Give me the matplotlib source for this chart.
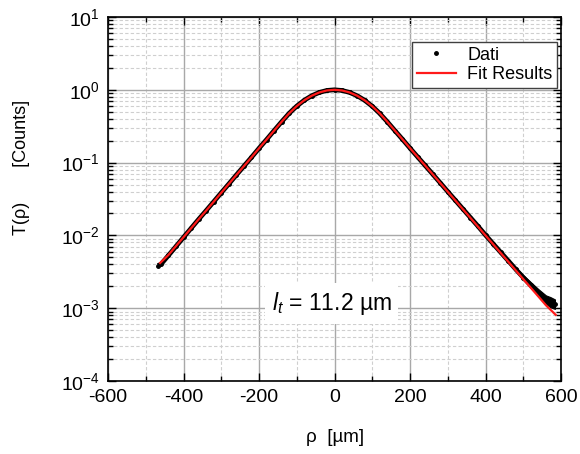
import matplotlib
matplotlib.use("Agg")
import matplotlib.pyplot as plt
from matplotlib.lines import Line2D
from matplotlib.ticker import MultipleLocator, LogLocator, NullFormatter

plt.rcParams["font.family"] = ["Liberation Sans", "DejaVu Sans"]
plt.rcParams["mathtext.fontset"] = "custom"
plt.rcParams["mathtext.rm"] = "Liberation Sans"
plt.rcParams["mathtext.it"] = "Liberation Sans:italic"
plt.rcParams["axes.unicode_minus"] = False

# Measured transmittance profile (normalised counts) vs. distance rho [um]
rho_data = [-468, -460, -440, -420, -400, -380, -360, -340, -320, -300, -280, -260,
            -240, -220, -200, -180, -160, -140, -120, -100, -80, -60, -40, -20, 0,
            20, 40, 60, 80, 100, 120, 140, 160, 180, 200, 220, 240, 260, 280, 300,
            320, 340, 360, 380, 400, 420, 440, 460, 480, 500, 520, 540, 560, 584]
t_data = [0.00385, 0.00400, 0.00530, 0.00705, 0.00940, 0.0125, 0.0166, 0.0219, 0.0290,
          0.0385, 0.0509, 0.0675, 0.0893, 0.118, 0.157, 0.207, 0.275, 0.364, 0.476,
          0.597, 0.719, 0.831, 0.921, 0.980, 1.000, 0.979, 0.920, 0.829, 0.717,
          0.594, 0.473, 0.363, 0.275, 0.209, 0.158, 0.120, 0.0915, 0.0695, 0.0528,
          0.0400, 0.0304, 0.0231, 0.0176, 0.0134, 0.0101, 0.00770, 0.00588, 0.00450,
          0.00343, 0.00264, 0.00206, 0.00163, 0.00131, 0.00113]

# Scatter band of the noisy tail
rho_tail = [460, 480, 500, 520, 540, 560, 572, 584]
t_tail_hi = [0.00470, 0.00365, 0.00285, 0.00228, 0.00183, 0.00150, 0.00142, 0.00132]
t_tail_lo = [0.00435, 0.00330, 0.00250, 0.00192, 0.00148, 0.00114, 0.00103, 0.00098]

# Fitted diffusion profile
rho_fit = [-462, -440, -420, -400, -380, -360, -340, -320, -300, -280, -260, -240,
           -220, -200, -180, -160, -140, -120, -100, -80, -60, -40, -20, 0, 20, 40,
           60, 80, 100, 120, 140, 160, 180, 200, 220, 240, 260, 280, 300, 320, 340,
           360, 380, 400, 420, 440, 460, 480, 500, 520, 540, 560, 586]
t_fit = [0.00418, 0.00538, 0.00713, 0.00944, 0.0125, 0.0166, 0.0219, 0.0290, 0.0385,
         0.0509, 0.0675, 0.0893, 0.118, 0.157, 0.207, 0.275, 0.364, 0.476, 0.597,
         0.719, 0.831, 0.921, 0.980, 1.000, 0.979, 0.920, 0.829, 0.717, 0.594,
         0.473, 0.363, 0.275, 0.209, 0.158, 0.120, 0.0912, 0.0692, 0.0525, 0.0398,
         0.0302, 0.0229, 0.0174, 0.0132, 0.0100, 0.00759, 0.00575, 0.00437,
         0.00331, 0.00251, 0.00191, 0.00145, 0.00110, 0.000810]

fig = plt.figure(figsize=(5.8, 4.54), dpi=100)
ax = fig.add_axes([108 / 580, 1 - 381 / 454, 453 / 580, 364 / 454])

ax.set_yscale("log")
ax.set_xlim(-600, 600)
ax.set_ylim(1e-4, 1e1)

ax.xaxis.set_major_locator(MultipleLocator(200))
ax.xaxis.set_minor_locator(MultipleLocator(100))
ax.yaxis.set_major_locator(LogLocator(base=10, numticks=10))
ax.yaxis.set_minor_locator(LogLocator(base=10, subs=range(2, 10), numticks=20))
ax.yaxis.set_minor_formatter(NullFormatter())

ax.grid(True, which="major", color="#a8a8a8", lw=1.0, ls="-")
ax.grid(True, which="minor", color="#cfcfcf", lw=0.8, ls=(0, (3, 2)))
ax.set_axisbelow(True)

ax.tick_params(which="both", direction="in", top=True, right=True,
               labelsize=14, width=1.0, pad=6)
ax.tick_params(which="major", length=6)
ax.tick_params(which="minor", length=3.5)
for s in ax.spines.values():
    s.set_linewidth(1.2)
    s.set_color("black")

# data: dense points drawn as a thick black trace
ax.plot(rho_data, t_data, color="black", lw=3.4, marker="o", ms=2.5,
        solid_capstyle="butt", zorder=3)
ax.fill_between(rho_tail, t_tail_lo, t_tail_hi, color="black", lw=0.8,
                edgecolor="black", zorder=3)
ax.plot(rho_fit, t_fit, color="#ff1a1a", lw=1.6, zorder=4)

handles = [Line2D([], [], ls="none", marker="o", ms=2.5, color="black"),
           Line2D([], [], color="#ff1a1a", lw=1.6)]
leg = ax.legend(handles, ["Dati", "Fit Results"], loc="upper right",
                bbox_to_anchor=(0.991, 0.931), borderaxespad=0, fontsize=13,
                fancybox=False, framealpha=1, edgecolor="#404040",
                handlelength=2.2, handletextpad=0.6, borderpad=0.25,
                labelspacing=0.15)
leg.get_frame().set_linewidth(1.0)

ax.text(-8, 1.15e-3, r"$l_t$ = 11.2 µm", fontsize=16.5, ha="center", va="center",
        bbox=dict(boxstyle="square,pad=0.3", facecolor="white", edgecolor="none"),
        zorder=5)

fig.text(335 / 580, 1 - 437 / 454, "ρ  [µm]", fontsize=13.5,
         ha="center", va="center")
fig.text(22 / 580, 1 - 167 / 454, "T(ρ)       [Counts]", fontsize=13,
         rotation=90, ha="center", va="center")

fig.savefig("out.png", dpi=100)
